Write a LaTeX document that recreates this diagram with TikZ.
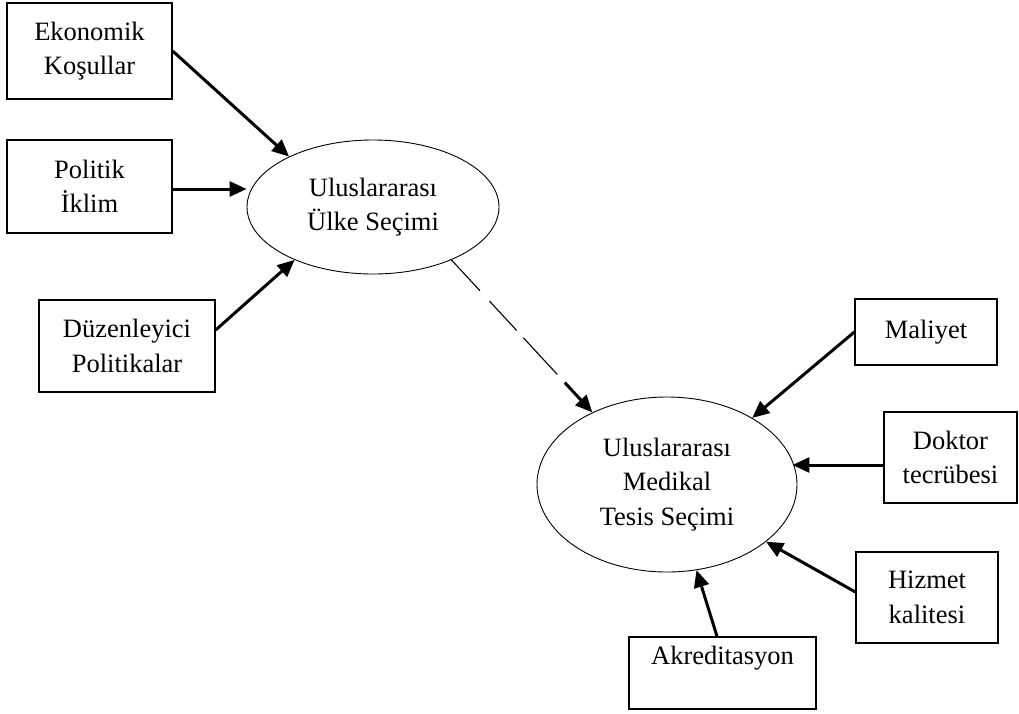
\documentclass[tikz,border=0pt]{standalone}
\usepackage{fontspec}
\setmainfont{Liberation Serif}
\usetikzlibrary{arrows.meta,shapes.geometric,calc}
\begin{document}
\begin{tikzpicture}[x=1pt,y=-1pt,
  txt/.style={font=\fontsize{26.5}{34.5}\selectfont},
  box/.style={draw,line width=1.3pt,align=center,inner sep=0pt,txt},
  ell/.style={draw,ellipse,line width=0.9pt,inner sep=0pt,align=center,txt},
  arr/.style={line width=3pt,-{Triangle[length=17pt,width=15pt]}}]
\useasboundingbox (0,0) rectangle (1019,713);
% boxes
\node[box,minimum width=165pt,minimum height=96pt] (eko) at (89.5,51) {Ekonomik\\Koşullar};
\node[box,minimum width=165pt,minimum height=93pt] (pol) at (89.5,186.5) {Politik\\İklim};
\node[box,minimum width=176pt,minimum height=92pt] (duz) at (127,346) {Düzenleyici\\Politikalar};
\node[box,minimum width=142pt,minimum height=66pt] (mal) at (926,332) {Maliyet};
\node[box,minimum width=133pt,minimum height=91pt] (dok) at (950.5,457.5) {Doktor\\tecrübesi};
\node[box,minimum width=142pt,minimum height=91pt] (hiz) at (927,597.5) {Hizmet\\kalitesi};
\node[box,minimum width=187pt,minimum height=72pt] (akr) at (722.5,673) {Akreditasyon\\\mbox{}};
% ellipses
\node[ell,minimum width=252pt,minimum height=134pt] (u1) at (373,207) {Uluslararası\\Ülke Seçimi};
\node[ell,minimum width=260pt,minimum height=175pt] (u2) at (667,484.5) {Uluslararası\\Medikal\\Tesis Seçimi};
% arrows
\draw[arr] (eko.east) -- (u1.149);
\draw[arr] ([yshift=-2.5pt]pol.east) -- ([yshift=-2.5pt]pol.east -| u1.west);
\draw[arr] ([yshift=16pt]duz.east) -- (u1.214);
\coordinate (dk) at ($(u1.-34.5)!156pt!(u2.136)$);
\draw[line width=1.1pt,dash pattern=on 42pt off 14pt on 40pt off 10pt on 50pt off 30pt] (u1.-34.5) -- (dk);
\draw[arr,shorten <=11pt] (dk) -- (u2.136);
\draw[arr] (mal.west) -- (u2.38.7);
\draw[arr] ([yshift=-7.5pt]dok.west) -- ([yshift=-7.5pt,xshift=-5pt]dok.west -| u2.east);
\draw[arr] ([yshift=5.5pt]hiz.west) -- (u2.-30);
\draw[arr] ([xshift=-5.5pt]akr.north) -- (u2.-71);
\end{tikzpicture}
\end{document}
